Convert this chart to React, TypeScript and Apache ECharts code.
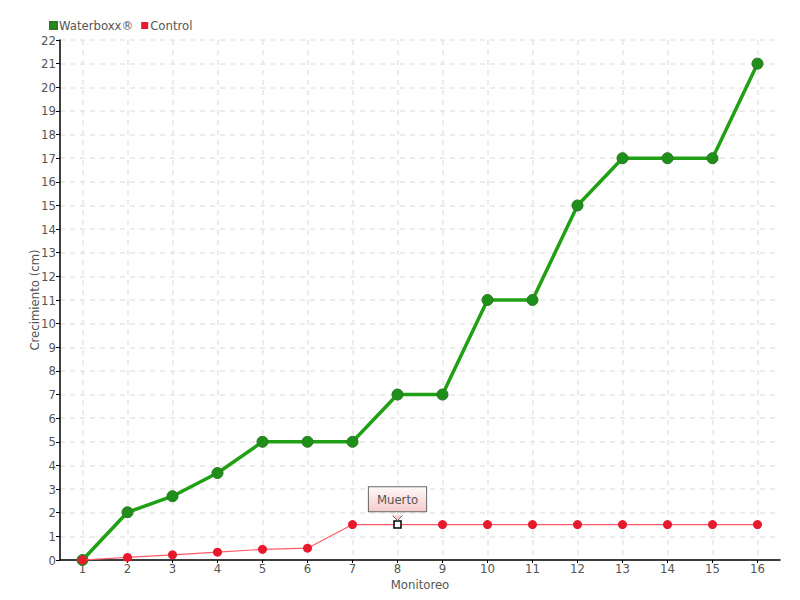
import React, { useEffect, useRef } from "react";
import * as echarts from "echarts";

const categories = ["1", "2", "3", "4", "5", "6", "7", "8", "9", "10", "11", "12", "13", "14", "15", "16"];
const waterboxx = [0, 2.02, 2.7, 3.68, 5, 5, 5, 7, 7, 11, 11, 15, 17, 17, 17, 21];
const control = [0, 0.11, 0.22, 0.33, 0.45, 0.5, 1.5, 1.5, 1.5, 1.5, 1.5, 1.5, 1.5, 1.5, 1.5, 1.5];
const deadIndex = 7;
const deadLabel = "Muerto";

const FONT = "'DejaVu Sans Condensed', 'Roboto Condensed', Roboto, sans-serif";
const TXT = "#555";

export default function App() {
  const ref = useRef<HTMLDivElement>(null);
  useEffect(() => {
    const chart = echarts.init(ref.current!, null, { renderer: "svg" });
    const controlData = control.map((v, i) =>
      i === deadIndex
        ? {
            value: v,
            symbol: "rect",
            symbolSize: 7,
            itemStyle: { color: "#fff", borderColor: "#000", borderWidth: 1.5 },
            label: {
              show: true,
              formatter: deadLabel,
              position: "top",
              distance: 9,
              color: "#555",
              fontFamily: FONT,
              fontSize: 13,
              padding: [6, 8, 5, 8],
              borderColor: "#666",
              borderWidth: 1,
              backgroundColor: {
                type: "linear", x: 0, y: 0, x2: 0, y2: 1,
                colorStops: [
                  { offset: 0, color: "#fff8f8" },
                  { offset: 1, color: "#f6cccc" },
                ],
              },
            },
          }
        : v
    );
    chart.setOption({
      animation: false,
      textStyle: { fontFamily: FONT, color: TXT },
      legend: {
        left: 44,
        top: 14,
        itemWidth: 7,
        itemHeight: 7,
        itemGap: 8,
        icon: "rect",
        textStyle: { fontFamily: FONT, fontSize: 13, color: TXT, padding: [0, 0, 0, -3] },
        data: ["Waterboxx®", "Control"],
      },
      grid: { left: 60, right: 20, top: 40, bottom: 40, outerBoundsMode: "none", containLabel: false },
      xAxis: {
        type: "category",
        data: categories,
        boundaryGap: true,
        name: "Monitoreo",
        nameLocation: "middle",
        nameGap: 18,
        nameMoveOverlap: false,
        nameTextStyle: { fontFamily: FONT, fontSize: 13, color: TXT },
        axisLine: { lineStyle: { color: "#000", width: 1.5 } },
        axisTick: { show: true, alignWithLabel: true, length: 3, lineStyle: { color: "#000" } },
        axisLabel: { fontFamily: FONT, fontSize: 13, color: TXT, margin: 2 },
        splitLine: { show: true, alignWithLabel: true, lineStyle: { color: "#e6e6e6", type: [5, 5], width: 1.5 } },
      },
      yAxis: {
        type: "value",
        min: 0,
        max: 22,
        interval: 1,
        name: "Crecimiento (cm)",
        nameLocation: "middle",
        nameGap: 19,
        nameMoveOverlap: false,
        nameTextStyle: { fontFamily: FONT, fontSize: 13, color: TXT },
        axisLine: { show: true, lineStyle: { color: "#000", width: 1.5 } },
        axisTick: { show: true, length: 4, lineStyle: { color: "#000" } },
        axisLabel: { fontFamily: FONT, fontSize: 13, color: TXT, margin: 4 },
        splitLine: { show: true, lineStyle: { color: "#e6e6e6", type: [5, 5], width: 1.5 } },
      },
      series: [
        {
          name: "Control",
          type: "line",
          data: controlData,
          z: 3,
          symbol: "circle",
          symbolSize: 9,
          itemStyle: { color: "#e8192c" },
          lineStyle: { color: "#ff5a6a", width: 1.2 },
        },
        {
          name: "Waterboxx®",
          type: "line",
          data: waterboxx,
          z: 2,
          symbol: "circle",
          symbolSize: 11,
          itemStyle: { color: "#1f8f1a", borderColor: "#2a7a22", borderWidth: 1 },
          lineStyle: { color: "#20a014", width: 3.5 },
        },
      ],
      color: ["#e8192c", "#1f9a14"],
    });
    const p = chart.convertToPixel({ gridIndex: 0 }, [deadIndex, control[deadIndex]]) as number[];
    if (p && isFinite(p[0])) {
      const bottom = p[1] - 9;
      chart.setOption({
        graphic: [
          {
            type: "polyline",
            z: 100,
            shape: { points: [[p[0] - 5, bottom], [p[0], bottom + 5], [p[0] + 5, bottom]] },
            style: { stroke: "#666", lineWidth: 1, fill: "#f6cccc" },
          },
        ],
      });
    }
    return () => chart.dispose();
  }, []);
  return <div ref={ref} style={{ width: 800, height: 600, position: "absolute", left: 0, top: 0 }} />;
}
